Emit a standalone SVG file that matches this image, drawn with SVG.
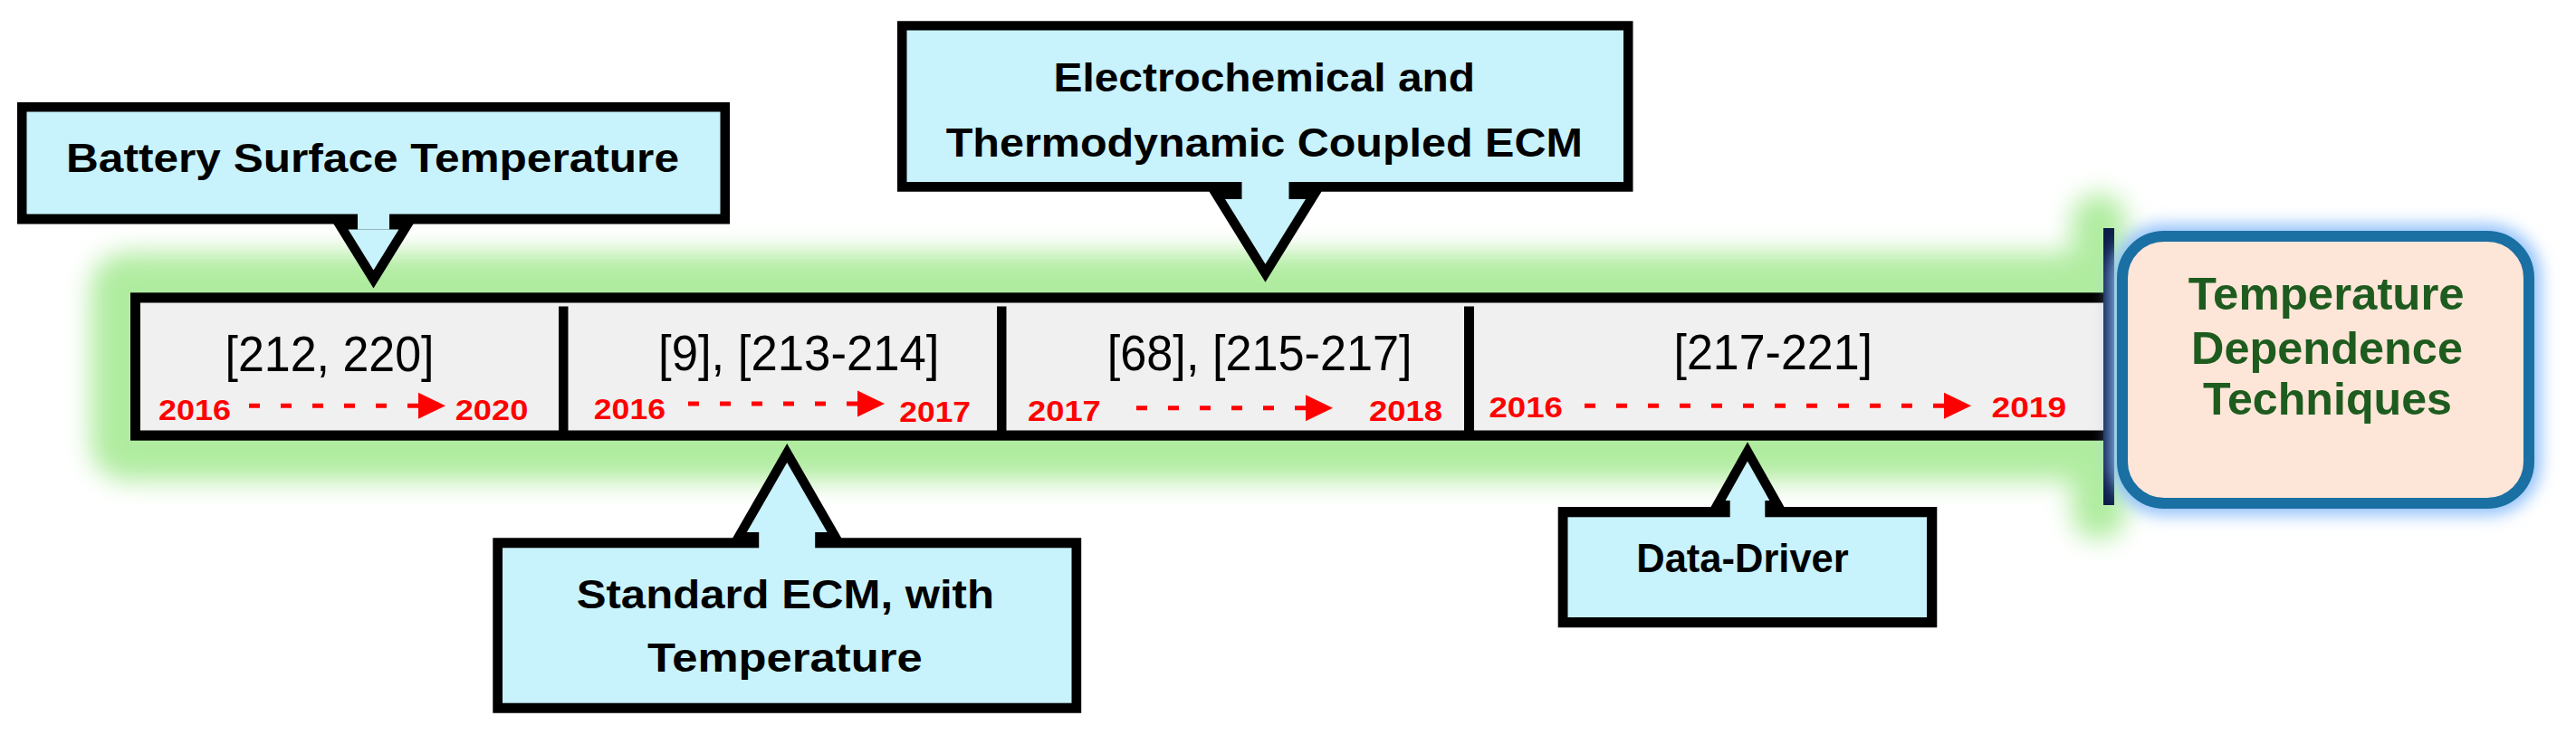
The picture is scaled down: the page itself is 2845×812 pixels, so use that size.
<svg xmlns="http://www.w3.org/2000/svg" width="2845" height="812" viewBox="0 0 2845 812">
<defs>
<style>
.co{font-family:"Liberation Sans",Arial,sans-serif;font-weight:bold;font-size:44px;fill:#000}
.ref{font-family:"Liberation Sans",Arial,sans-serif;font-size:56px;fill:#000}
.yr{font-family:"Liberation Sans",Arial,sans-serif;font-weight:bold;font-size:32px;fill:#ff0000}
.tt{font-family:"Liberation Sans",Arial,sans-serif;font-weight:bold;font-size:50px;fill:#1e5b1e}
.blk{fill:#000}
.cfill{fill:#c8f2fc}
.dash{stroke:#ff0000;stroke-width:5;fill:none;stroke-dasharray:12 23;marker-end:url(#ah)}
</style>
<filter id="gGlow" x="-10%" y="-60%" width="120%" height="220%"><feGaussianBlur stdDeviation="14"/></filter>
<filter id="bGlow" x="-20%" y="-20%" width="140%" height="140%"><feGaussianBlur stdDeviation="9"/></filter>
<marker id="ah" markerUnits="userSpaceOnUse" markerWidth="30" markerHeight="30" viewBox="0 0 30 30" refX="0" refY="15" orient="auto"><path d="M0,0.5 L30,15 L0,29.5 Z" fill="#ff0000"/></marker>
</defs>
<rect width="2845" height="812" fill="#ffffff"/>

<g id="glow" filter="url(#gGlow)" fill="#b0eca0">
<rect x="100" y="279" width="2240" height="252" rx="40"/>
<rect x="2288" y="214" width="60" height="382" rx="30"/>
</g>

<g id="timeline">
<rect x="144" y="323.3" width="2186" height="163.4" class="blk"/>
<rect x="155" y="334.5" width="2175" height="141" fill="#f0f0f0"/>
<rect x="617" y="338.5" width="10.5" height="137.5" class="blk"/>
<rect x="1101" y="338.5" width="10.5" height="137.5" class="blk"/>
<rect x="1617" y="338.5" width="11" height="137.5" class="blk"/>
</g>

<g id="seg1">
<text class="ref" x="248.5" y="410" textLength="231" lengthAdjust="spacingAndGlyphs">[212, 220]</text>
<text class="yr" x="175" y="464.3" textLength="80" lengthAdjust="spacingAndGlyphs">2016</text>
<text class="yr" x="502.7" y="464.3" textLength="80.6" lengthAdjust="spacingAndGlyphs">2020</text>
</g>
<g id="seg2">
<text class="ref" x="727" y="409" textLength="310.5" lengthAdjust="spacingAndGlyphs">[9], [213-214]</text>
<text class="yr" x="655.8" y="463" textLength="79.2" lengthAdjust="spacingAndGlyphs">2016</text>
<text class="yr" x="993.3" y="466" textLength="78.7" lengthAdjust="spacingAndGlyphs">2017</text>
</g>
<g id="seg3">
<text class="ref" x="1222.8" y="409.3" textLength="336.7" lengthAdjust="spacingAndGlyphs">[68], [215-217]</text>
<text class="yr" x="1135" y="465" textLength="80.8" lengthAdjust="spacingAndGlyphs">2017</text>
<text class="yr" x="1512" y="465" textLength="81" lengthAdjust="spacingAndGlyphs">2018</text>
</g>
<g id="seg4">
<text class="ref" x="1848.5" y="408.3" textLength="219.5" lengthAdjust="spacingAndGlyphs">[217-221]</text>
<text class="yr" x="1644.4" y="461" textLength="81.6" lengthAdjust="spacingAndGlyphs">2016</text>
<text class="yr" x="2199.5" y="461" textLength="82.5" lengthAdjust="spacingAndGlyphs">2019</text>
</g>

<g id="connectors">
<path class="dash" d="M273.3,448.3 H462" stroke-dashoffset="33.3"/>
<path class="dash" d="M757.6,446 H947" stroke-dashoffset="32.6"/>
<path class="dash" d="M1253.3,450.7 H1442" stroke-dashoffset="33.3"/>
<path class="dash" d="M1746.4,448.3 H2147" stroke-dashoffset="31.4"/>
</g>

<g id="callout-battery">
<polygon class="blk" points="19,113 806,113 806,247.5 456.5,247.5 412.5,318.5 368.5,247.5 19,247.5"/>
<rect class="cfill" x="29.5" y="123.5" width="766" height="113"/>
<rect class="cfill" x="395" y="236" width="35" height="17.5"/>
<polygon class="cfill" points="384.6,253.5 440.4,253.5 412.5,298.6"/>
<text class="co" x="73" y="190" textLength="677" lengthAdjust="spacingAndGlyphs">Battery Surface Temperature</text>
</g>

<g id="callout-electro">
<polygon class="blk" points="991,23.3 1803.5,23.3 1803.5,211.7 1459.5,211.7 1397.5,311.7 1335.5,211.7 991,211.7"/>
<rect class="cfill" x="1001.5" y="33.5" width="791.5" height="167.5"/>
<rect class="cfill" x="1371.5" y="200.5" width="52" height="19.5"/>
<polygon class="cfill" points="1353,220 1442,220 1397.5,291.7"/>
<text class="co" x="1163.5" y="101" textLength="465.5" lengthAdjust="spacingAndGlyphs">Electrochemical and</text>
<text class="co" x="1044.7" y="172.5" textLength="703.2" lengthAdjust="spacingAndGlyphs">Thermodynamic Coupled ECM</text>
</g>

<g id="callout-standard">
<polygon class="blk" points="544.3,594.3 809.2,594.3 869.2,490 929.2,594.3 1194.2,594.3 1194.2,787.7 544.3,787.7"/>
<rect class="cfill" x="555" y="605.3" width="628.5" height="171.4"/>
<rect class="cfill" x="838.2" y="588" width="62" height="18"/>
<polygon class="cfill" points="824.8,588 913.6,588 869.2,511"/>
<text class="co" x="636.7" y="671.7" textLength="461.3" lengthAdjust="spacingAndGlyphs">Standard ECM, with</text>
<text class="co" x="715" y="741.7" textLength="303.7" lengthAdjust="spacingAndGlyphs">Temperature</text>
</g>

<g id="callout-data">
<polygon class="blk" points="1720.7,560 1889.5,560 1930,488.3 1970.5,560 2139.3,560 2139.3,693.3 1720.7,693.3"/>
<rect class="cfill" x="1731.5" y="571.3" width="396.5" height="110.7"/>
<rect class="cfill" x="1910.7" y="553" width="38.6" height="19"/>
<polygon class="cfill" points="1905.6,553 1954.4,553 1930,509.6"/>
<text class="co" x="1807.3" y="631.7" textLength="234.4" lengthAdjust="spacingAndGlyphs">Data-Driver</text>
</g>

<g id="bar">
<rect x="2323" y="252" width="12" height="306" fill="#0c1c4a"/>
</g>

<g id="title">
<rect x="2331" y="248" width="475" height="321" rx="58" fill="#8fc0fa" filter="url(#bGlow)"/>
<rect x="2344" y="261" width="449" height="295" rx="46" fill="#fde5d8" stroke="#1a6fa3" stroke-width="12"/>
<text class="tt" x="2416.7" y="341.7" textLength="305" lengthAdjust="spacingAndGlyphs">Temperature</text>
<text class="tt" x="2420" y="401.7" textLength="300" lengthAdjust="spacingAndGlyphs">Dependence</text>
<text class="tt" x="2433" y="458.3" textLength="275" lengthAdjust="spacingAndGlyphs">Techniques</text>
</g>
</svg>
